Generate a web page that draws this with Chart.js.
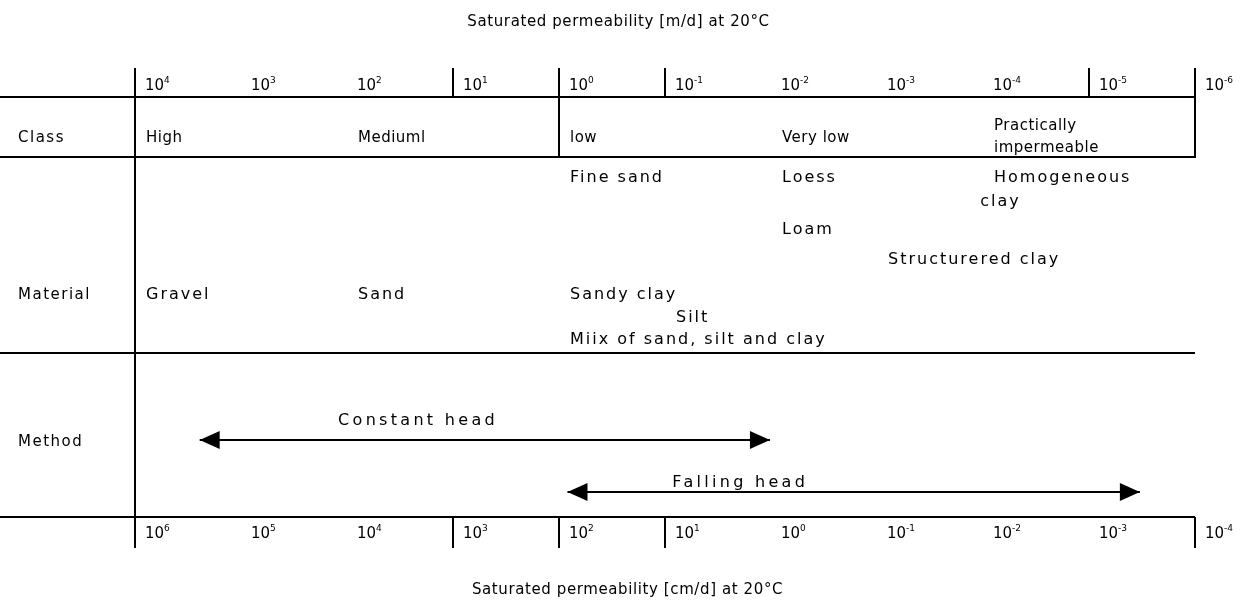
<!DOCTYPE html>
<html lang="en">
<head>
<meta charset="UTF-8">
<title>Saturated permeability classes</title>
<script src="https://cdn.jsdelivr.net/npm/chart.js"></script>
<style>
  body { margin: 0; background: #fff; }
  .chart-container { width: 1249px; height: 610px; }
</style>
</head>
<body>
<div class="chart-container"><canvas id="permChart"></canvas></div>
<script>
// x values are log10 of the permeability in m/d (cm/d = m/d + 2 decades)
const mdExponents = [4, 3, 2, 1, 0, -1, -2, -3, -4, -5, -6];
const cmdExponents = [6, 5, 4, 3, 2, 1, 0, -1, -2, -3, -4];
const topTicks = [1, 0, -1, -5, -6];
const bottomTicks = [1, 0, -1, -6];

const classNames = ['High', 'Mediuml', 'low', 'Very low', 'Practically', 'impermeable'];
const classFrom = [4, 2, 0, -2, -4, -4];
const classBreaks = [0];

const materialNames = ['Fine sand', 'Loess', 'Homogeneous', 'clay', 'Loam', 'Structurered clay',
  'Gravel', 'Sand', 'Sandy clay', 'Silt', 'Miix of sand, silt and clay'];
const materialFrom = [0, -2, -4, -3.87, -2, -3, 4, 2, 0, -1, 0];

const methodNames = ['Constant head', 'Falling head'];
const methodFrom = [3.39, -0.08];
const methodTo = [-1.99, -5.48];
const methodLabelAt = [1.33, -1.71];

const rowNames = ['Class', 'Material', 'Method'];

// layout (pixels)
const W = 1249, H = 610;
const leftEdge = 135, decadePx = 106;
const xMax = 4 + leftEdge / decadePx;
const xMin = -6 - (W - leftEdge - 10 * decadePx) / decadePx;
const L = {
  titleTop: 22, titleBottom: 590,
  tickTop: 68, axisTop: 97, classBottom: 157, materialBottom: 353, methodBottom: 517, tickBottom: 548,
  topLabelY: 86, bottomLabelY: 534,
  classY: [138, 138, 138, 138, 126, 148],
  materialY: [178, 178, 178, 202, 230, 260, 295, 295, 295, 318, 340],
  rowY: [138, 295, 442],
  methodTextY: [421, 483],
  methodLineY: [440, 492],
  pad: 11
};
const FONT = '"DejaVu Sans", sans-serif';

function seg(x1, y1, x2, y2) {
  return {
    data: [{ x: x1, y: y1 }, { x: x2, y: y2 }],
    showLine: true, borderColor: '#000', borderWidth: 2,
    pointRadius: 0, pointHoverRadius: 0
  };
}

const datasets = [];
[L.axisTop, L.classBottom, L.materialBottom, L.methodBottom].forEach(y => datasets.push(seg(xMax, y, -6, y)));
datasets.push(seg(4, L.tickTop, 4, L.tickBottom));
topTicks.forEach(v => datasets.push(seg(v, L.tickTop, v, v === -6 ? L.classBottom + 1 : L.axisTop)));
classBreaks.forEach(v => datasets.push(seg(v, L.axisTop, v, L.classBottom)));
bottomTicks.forEach(v => datasets.push(seg(v, L.methodBottom, v, L.tickBottom)));
methodNames.forEach((n, i) => datasets.push(seg(methodFrom[i], L.methodLineY[i], methodTo[i], L.methodLineY[i])));

const textPlugin = {
  id: 'diagramText',
  afterDatasetsDraw(chart) {
    const ctx = chart.ctx, xs = chart.scales.x, ys = chart.scales.y;
    const px = v => xs.getPixelForValue(v), py = v => ys.getPixelForValue(v);
    const setFont = (size, spacing) => {
      ctx.font = size + 'px ' + FONT;
      ctx.letterSpacing = spacing + 'px';
    };
    ctx.save();
    ctx.fillStyle = '#000';
    ctx.textBaseline = 'middle';

    // titles
    setFont(15, 0.6);
    ctx.textAlign = 'center';
    ctx.fillText('Saturated permeability [m/d] at 20°C', W / 2 - 6, py(L.titleTop));
    ctx.fillText('Saturated permeability [cm/d] at 20°C', W / 2 + 3, py(L.titleBottom));

    // decade labels with superscript exponents
    ctx.textAlign = 'left';
    const power = (x, y, e) => {
      setFont(15, 0);
      ctx.fillText('10', x, y);
      const w = ctx.measureText('10').width;
      setFont(9, 0);
      ctx.fillText(String(e), x + w, y - 5);
    };
    mdExponents.forEach((e, i) => power(px(mdExponents[i]) + 10, py(L.topLabelY), e));
    cmdExponents.forEach((e, i) => power(px(mdExponents[i]) + 10, py(L.bottomLabelY), e));

    setFont(15, 1.5);
    rowNames.forEach((n, i) => ctx.fillText(n, 18, py(L.rowY[i])));
    setFont(15, 0.5);
    classNames.forEach((n, i) => ctx.fillText(n, px(classFrom[i]) + L.pad, py(L.classY[i])));
    setFont(16, 2);
    materialNames.forEach((n, i) => ctx.fillText(n, px(materialFrom[i]) + L.pad, py(L.materialY[i])));

    // methods: labels and arrow heads
    methodNames.forEach((n, i) => {
      setFont(16, 3.3);
      ctx.textAlign = 'center';
      ctx.fillText(n, px(methodLabelAt[i]), py(L.methodTextY[i]));
      const y = py(L.methodLineY[i]);
      [[methodFrom[i], 1], [methodTo[i], -1]].forEach(([v, dir]) => {
        const x = px(v);
        ctx.beginPath();
        ctx.moveTo(x, y);
        ctx.lineTo(x + dir * 20, y - 9);
        ctx.lineTo(x + dir * 20, y + 9);
        ctx.closePath();
        ctx.fill();
      });
    });
    ctx.restore();
  }
};

new Chart(document.getElementById('permChart'), {
  type: 'scatter',
  data: { datasets },
  options: {
    responsive: true,
    maintainAspectRatio: false,
    animation: false,
    layout: { padding: 0 },
    plugins: { legend: { display: false }, tooltip: { enabled: false } },
    scales: {
      x: { type: 'linear', reverse: true, min: xMin, max: xMax, display: false },
      y: { type: 'linear', reverse: true, min: 0, max: H, display: false }
    }
  },
  plugins: [textPlugin]
});
</script>
</body>
</html>
